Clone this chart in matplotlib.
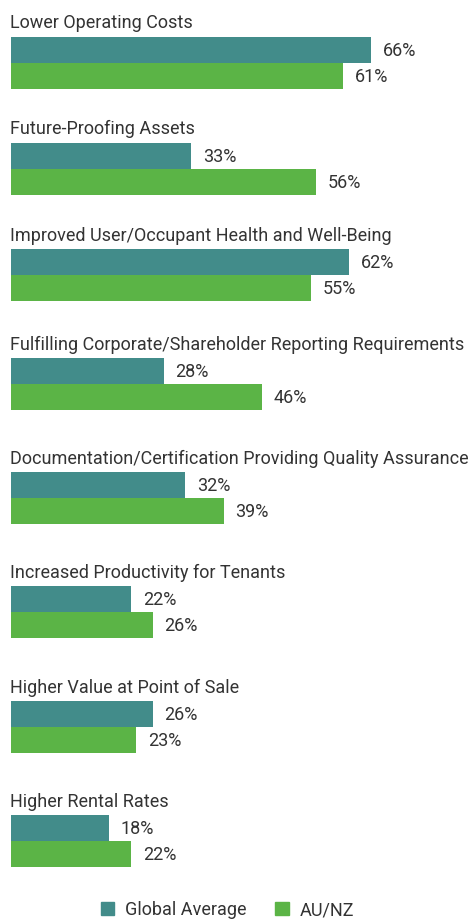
import matplotlib.pyplot as plt
from matplotlib.patches import Patch

# Benefits of green building, global vs AU/NZ responses (%)
categories = [
    "Lower Operating Costs",
    "Future-Proofing Assets",
    "Improved User/Occupant Health and Well-Being",
    "Fulfilling Corporate/Shareholder Reporting Requirements",
    "Documentation/Certification Providing Quality Assurance",
    "Increased Productivity for Tenants",
    "Higher Value at Point of Sale",
    "Higher Rental Rates",
]
global_avg = [66, 33, 62, 28, 32, 22, 26, 18]
au_nz = [61, 56, 55, 46, 39, 26, 23, 22]
series_names = ["Global Average", "AU/NZ"]

TEAL = "#428c8a"
GREEN = "#5bb446"
TEXT = "#333333"
plt.rcParams["font.family"] = ["Roboto", "DejaVu Sans"]

W, H = 474, 922
fig = plt.figure(figsize=(W / 100, H / 100), dpi=100)
left = 11
px_per_pct = 5.45
ax = fig.add_axes([left / W, 0, 1 - left / W, 1])
ax.set_xlim(0, (W - left) / px_per_pct)
ax.set_ylim(H, 0)
ax.axis("off")

# top edge of each group's first bar, in pixels from the top
group_tops = [37, 143, 249, 358, 472, 586, 701, 815]
bar_h = 26
fs = 13
for top, cat, g, a in zip(group_tops, categories, global_avg, au_nz):
    y_g = top + bar_h / 2
    y_a = top + bar_h * 1.5
    ax.barh(y_g, g, height=bar_h, color=TEAL, linewidth=0)
    ax.barh(y_a, a, height=bar_h, color=GREEN, linewidth=0)
    ax.text(-0.2, top - 8.5, cat, fontsize=fs, color=TEXT, va="baseline", ha="left")
    for val, y in ((g, y_g), (a, y_a)):
        ax.annotate(f"{val}%", (val, y), xytext=(8.5, -1), textcoords="offset points",
                    fontsize=fs, color=TEXT, va="center", ha="left")

handles = [Patch(color=TEAL), Patch(color=GREEN)]
fig.legend(handles, series_names, loc="center", bbox_to_anchor=(0.48, 1 - 910 / H),
           ncol=2, frameon=False, fontsize=fs, labelcolor=TEXT,
           handlelength=0.75, handleheight=0.75, handletextpad=0.6, columnspacing=1.6)

fig.savefig("out.png", dpi=100)
